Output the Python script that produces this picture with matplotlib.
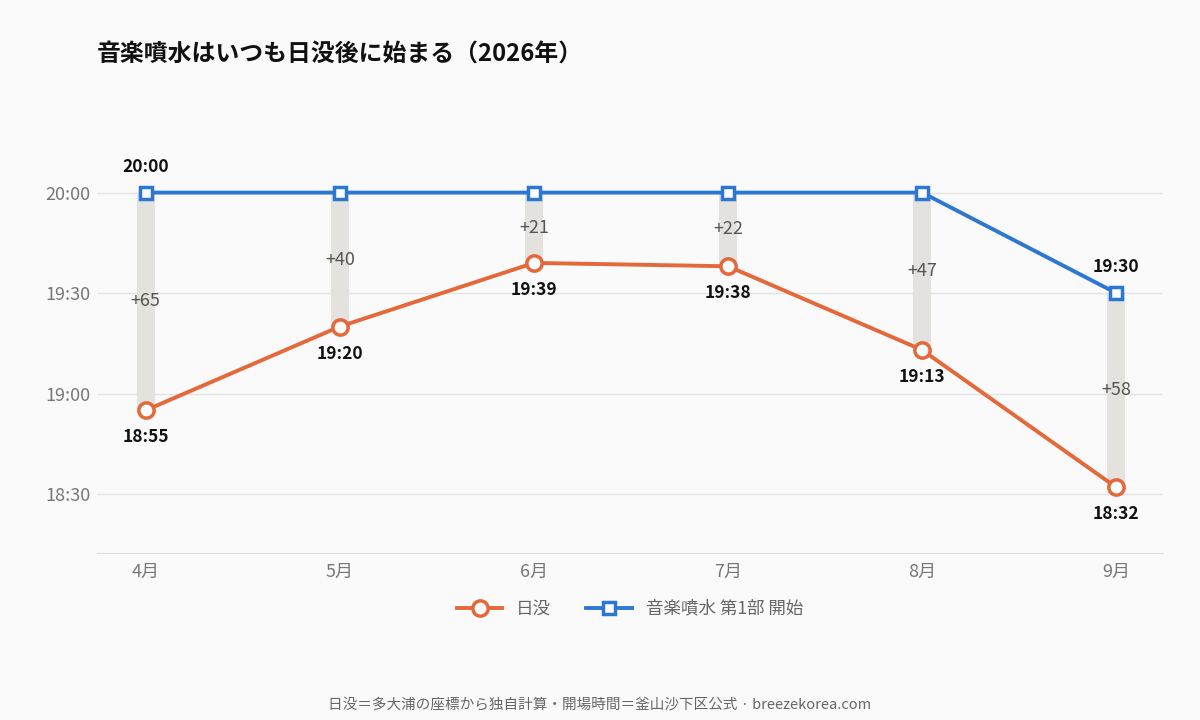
import matplotlib.pyplot as plt

plt.rcParams['font.family'] = ['Noto Sans CJK JP', 'DejaVu Sans']

# Data
months = ["4月", "5月", "6月", "7月", "8月", "9月"]
sunset = ["18:55", "19:20", "19:39", "19:38", "19:13", "18:32"]
fountain = ["20:00", "20:00", "20:00", "20:00", "20:00", "19:30"]
yticks = ["18:30", "19:00", "19:30", "20:00"]


def to_min(t):
    h, m = t.split(":")
    return int(h) * 60 + int(m)


sun_m = [to_min(t) for t in sunset]
fnt_m = [to_min(t) for t in fountain]
x = list(range(len(months)))

ORANGE = "#e4683a"
BLUE = "#2d77d2"
BG = "#fafafa"

fig = plt.figure(figsize=(12, 7.2), dpi=100, facecolor=BG)
ax = fig.add_axes([0.081, 0.232, 0.888, 0.574], facecolor=BG)

# gap bars
for xi, s, f in zip(x, sun_m, fnt_m):
    ax.vlines(xi, s, f, color="#e3e2df", linewidth=13, zorder=1)
    ax.text(xi, (s + f) / 2, f"+{f - s}", ha="center", va="center",
            fontsize=13, color="#555555", zorder=2)

ax.plot(x, sun_m, color=ORANGE, lw=2.8, marker="o", ms=11, mfc="white",
        mec=ORANGE, mew=2.5, zorder=4, label="日没")
ax.plot(x, fnt_m, color=BLUE, lw=2.8, marker="s", ms=9, mfc="white",
        mec=BLUE, mew=2.5, zorder=5, label="音楽噴水 第1部 開始")

for xi, s, t in zip(x, sun_m, sunset):
    ax.annotate(t, (xi, s), xytext=(0, -13), textcoords="offset points",
                ha="center", va="top", fontsize=12.5, fontweight="bold",
                color="#111111", zorder=6)
for i in (0, len(x) - 1):
    ax.annotate(fountain[i], (x[i], fnt_m[i]), xytext=(0, 12),
                textcoords="offset points", ha="center", va="bottom",
                fontsize=12.5, fontweight="bold", color="#111111", zorder=6)

ax.set_xlim(-0.25, 5.24)
ax.set_ylim(1092.4, 1215.8)
ax.set_xticks(x, months)
ax.set_yticks([to_min(t) for t in yticks], yticks)
ax.tick_params(axis="both", length=0, labelcolor="#777777", labelsize=13)
ax.tick_params(axis="x", pad=7)
ax.tick_params(axis="y", pad=5)
ax.grid(axis="y", color="#e4e4e4", lw=1)
ax.set_axisbelow(True)
for side in ("top", "right", "left"):
    ax.spines[side].set_visible(False)
ax.spines["bottom"].set_color("#dddddd")

fig.text(0.081, 0.926, "音楽噴水はいつも日没後に始まる（2026年）", fontsize=17.2,
         fontweight="bold", color="#111111", ha="left", va="center")

leg = ax.legend(loc="upper center", bbox_to_anchor=(0.5, -0.075), ncol=2,
                frameon=False, fontsize=12.6, handlelength=2.6,
                columnspacing=2.0, labelcolor="#666666")

fig.text(0.5, 0.021, "日没＝多大浦の座標から独自計算・開場時間＝釜山沙下区公式 · breezekorea.com",
         ha="center", va="center", fontsize=10.5, color="#666666")

fig.savefig("out.png", dpi=100, facecolor=BG)
